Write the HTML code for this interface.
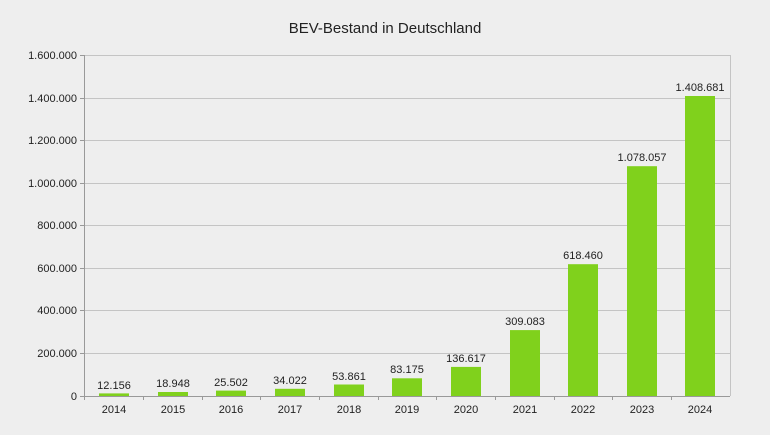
<!DOCTYPE html>
<html><head><meta charset="utf-8"><style>
html,body{margin:0;padding:0;background:#eeeeee;}
svg{display:block;font-family:"Liberation Sans",Arial,sans-serif;}
</style></head><body>
<svg width="770" height="435" viewBox="0 0 770 435">
<rect width="770" height="435" fill="#eeeeee"/>
<text x="385" y="33" text-anchor="middle" font-size="15" fill="#222">BEV-Bestand in Deutschland</text>
<g stroke="#c4c4c4" stroke-width="1">
<line x1="84" y1="55.5" x2="730" y2="55.5"/>
<line x1="84" y1="98.5" x2="730" y2="98.5"/>
<line x1="84" y1="140.5" x2="730" y2="140.5"/>
<line x1="84" y1="183.5" x2="730" y2="183.5"/>
<line x1="84" y1="225.5" x2="730" y2="225.5"/>
<line x1="84" y1="268.5" x2="730" y2="268.5"/>
<line x1="84" y1="310.5" x2="730" y2="310.5"/>
<line x1="84" y1="353.5" x2="730" y2="353.5"/>
<line x1="730.5" y1="55" x2="730.5" y2="396"/>
</g>
<g stroke="#999" stroke-width="1">
<line x1="84.5" y1="55" x2="84.5" y2="400"/>
<line x1="80" y1="396.5" x2="730" y2="396.5"/>
<line x1="80" y1="55.5" x2="84" y2="55.5"/>
<line x1="80" y1="98.5" x2="84" y2="98.5"/>
<line x1="80" y1="140.5" x2="84" y2="140.5"/>
<line x1="80" y1="183.5" x2="84" y2="183.5"/>
<line x1="80" y1="225.5" x2="84" y2="225.5"/>
<line x1="80" y1="268.5" x2="84" y2="268.5"/>
<line x1="80" y1="310.5" x2="84" y2="310.5"/>
<line x1="80" y1="353.5" x2="84" y2="353.5"/>
</g>
<g font-size="11" fill="#222" text-anchor="end">
<text x="77" y="59">1.600.000</text>
<text x="77" y="102">1.400.000</text>
<text x="77" y="144">1.200.000</text>
<text x="77" y="187">1.000.000</text>
<text x="77" y="229">800.000</text>
<text x="77" y="272">600.000</text>
<text x="77" y="314">400.000</text>
<text x="77" y="357">200.000</text>
<text x="77" y="400">0</text>
</g>
<g fill="#80d11c">
<rect x="99" y="393.4" width="30" height="2.6"/>
<rect x="158" y="392" width="30" height="4"/>
<rect x="216" y="390.6" width="30" height="5.4"/>
<rect x="275" y="388.8" width="30" height="7.2"/>
<rect x="334" y="384.5" width="30" height="11.5"/>
<rect x="392" y="378.3" width="30" height="17.7"/>
<rect x="451" y="366.9" width="30" height="29.1"/>
<rect x="510" y="330.1" width="30" height="65.9"/>
<rect x="568" y="264.2" width="30" height="131.8"/>
<rect x="627" y="166.2" width="30" height="229.8"/>
<rect x="685" y="96" width="30" height="300"/>
</g>
<g font-size="11" fill="#222" text-anchor="middle">
<text x="114" y="389">12.156</text>
<text x="173" y="387">18.948</text>
<text x="231" y="386">25.502</text>
<text x="290" y="384">34.022</text>
<text x="349" y="380">53.861</text>
<text x="407" y="373">83.175</text>
<text x="466" y="362">136.617</text>
<text x="525" y="325">309.083</text>
<text x="583" y="259">618.460</text>
<text x="642" y="161">1.078.057</text>
<text x="700" y="91">1.408.681</text>
</g>
<g stroke="#999"><line x1="143.5" y1="396" x2="143.5" y2="400"/><line x1="202.5" y1="396" x2="202.5" y2="400"/><line x1="260.5" y1="396" x2="260.5" y2="400"/><line x1="319.5" y1="396" x2="319.5" y2="400"/><line x1="378.5" y1="396" x2="378.5" y2="400"/><line x1="436.5" y1="396" x2="436.5" y2="400"/><line x1="495.5" y1="396" x2="495.5" y2="400"/><line x1="554.5" y1="396" x2="554.5" y2="400"/><line x1="612.5" y1="396" x2="612.5" y2="400"/><line x1="671.5" y1="396" x2="671.5" y2="400"/></g>
<g font-size="11" fill="#222" text-anchor="middle">
<text x="114" y="413">2014</text><text x="173" y="413">2015</text><text x="231" y="413">2016</text><text x="290" y="413">2017</text><text x="349" y="413">2018</text><text x="407" y="413">2019</text><text x="466" y="413">2020</text><text x="525" y="413">2021</text><text x="583" y="413">2022</text><text x="642" y="413">2023</text><text x="700" y="413">2024</text>
</g>
</svg>
</body></html>
